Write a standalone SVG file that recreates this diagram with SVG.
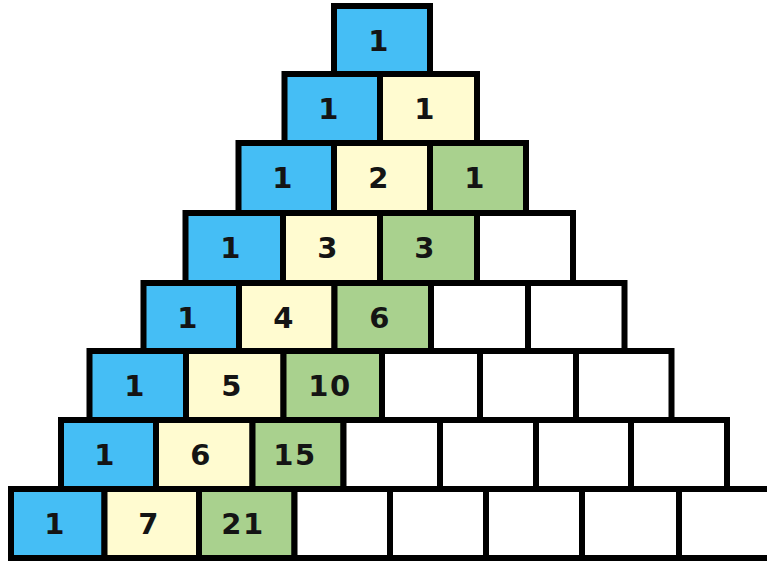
<svg xmlns="http://www.w3.org/2000/svg" width="767" height="562" viewBox="0 0 767 562">
<style>
rect{stroke:#000;stroke-width:6;stroke-linejoin:miter}
.b{fill:#45BEF5}.y{fill:#FFFBD0}.g{fill:#A9D18E}.w{fill:#FFFFFF}
text{font-family:"DejaVu Sans",Verdana,sans-serif;font-weight:bold;font-size:29px;letter-spacing:1.5px;fill:#141414;text-anchor:middle}
</style>
<rect x="0" y="0" width="767" height="562" fill="#fff" style="stroke:none"/>
<g id="r1c1"><rect class="b" x="334" y="6" width="96" height="68"/><text x="379" y="51">1</text></g>
<g id="r2c1"><rect class="b" x="284.5" y="74" width="95.5" height="69"/><text x="329" y="119">1</text></g>
<g id="r2c2"><rect class="y" x="380" y="74" width="97" height="69"/><text x="425" y="119">1</text></g>
<g id="r3c1"><rect class="b" x="238.5" y="143" width="95.5" height="70"/><text x="283" y="188">1</text></g>
<g id="r3c2"><rect class="y" x="334" y="143" width="96" height="70"/><text x="379" y="188">2</text></g>
<g id="r3c3"><rect class="g" x="430" y="143" width="96" height="70"/><text x="475" y="188">1</text></g>
<g id="r4c1"><rect class="b" x="185.5" y="213" width="97.5" height="70"/><text x="231" y="258">1</text></g>
<g id="r4c2"><rect class="y" x="283" y="213" width="97" height="70"/><text x="328" y="258">3</text></g>
<g id="r4c3"><rect class="g" x="380" y="213" width="97" height="70"/><text x="425" y="258">3</text></g>
<g id="r4c4"><rect class="w" x="477" y="213" width="96" height="70"/></g>
<g id="r5c1"><rect class="b" x="143.5" y="283" width="95.5" height="68"/><text x="188" y="328">1</text></g>
<g id="r5c2"><rect class="y" x="239" y="283" width="95.5" height="68"/><text x="284" y="328">4</text></g>
<g id="r5c3"><rect class="g" x="334.5" y="283" width="96.5" height="68"/><text x="380" y="328">6</text></g>
<g id="r5c4"><rect class="w" x="431" y="283" width="97" height="68"/></g>
<g id="r5c5"><rect class="w" x="528" y="283" width="96.5" height="68"/></g>
<g id="r6c1"><rect class="b" x="89.5" y="351" width="96.5" height="69"/><text x="135" y="396">1</text></g>
<g id="r6c2"><rect class="y" x="186" y="351" width="97.5" height="69"/><text x="232" y="396">5</text></g>
<g id="r6c3"><rect class="g" x="283.5" y="351" width="98.5" height="69"/><text x="330" y="396">10</text></g>
<g id="r6c4"><rect class="w" x="382" y="351" width="98" height="69"/></g>
<g id="r6c5"><rect class="w" x="480" y="351" width="96" height="69"/></g>
<g id="r6c6"><rect class="w" x="576" y="351" width="95.5" height="69"/></g>
<g id="r7c1"><rect class="b" x="61" y="420" width="95" height="69"/><text x="105" y="465">1</text></g>
<g id="r7c2"><rect class="y" x="156" y="420" width="96.5" height="69"/><text x="201" y="465">6</text></g>
<g id="r7c3"><rect class="g" x="252.5" y="420" width="91" height="69"/><text x="295" y="465">15</text></g>
<g id="r7c4"><rect class="w" x="343.5" y="420" width="96.5" height="69"/></g>
<g id="r7c5"><rect class="w" x="440" y="420" width="96" height="69"/></g>
<g id="r7c6"><rect class="w" x="536" y="420" width="95" height="69"/></g>
<g id="r7c7"><rect class="w" x="631" y="420" width="96" height="69"/></g>
<g id="r8c1"><rect class="b" x="11" y="489" width="93.5" height="69"/><text x="55" y="534">1</text></g>
<g id="r8c2"><rect class="y" x="104.5" y="489" width="94.5" height="69"/><text x="149" y="534">7</text></g>
<g id="r8c3"><rect class="g" x="199" y="489" width="95.5" height="69"/><text x="243" y="534">21</text></g>
<g id="r8c4"><rect class="w" x="294.5" y="489" width="95.5" height="69"/></g>
<g id="r8c5"><rect class="w" x="390" y="489" width="96" height="69"/></g>
<g id="r8c6"><rect class="w" x="486" y="489" width="96" height="69"/></g>
<g id="r8c7"><rect class="w" x="582" y="489" width="97" height="69"/></g>
<g id="r8c8"><rect class="w" x="679" y="489" width="96" height="69"/></g>
<g id="connectors"></g>
</svg>
